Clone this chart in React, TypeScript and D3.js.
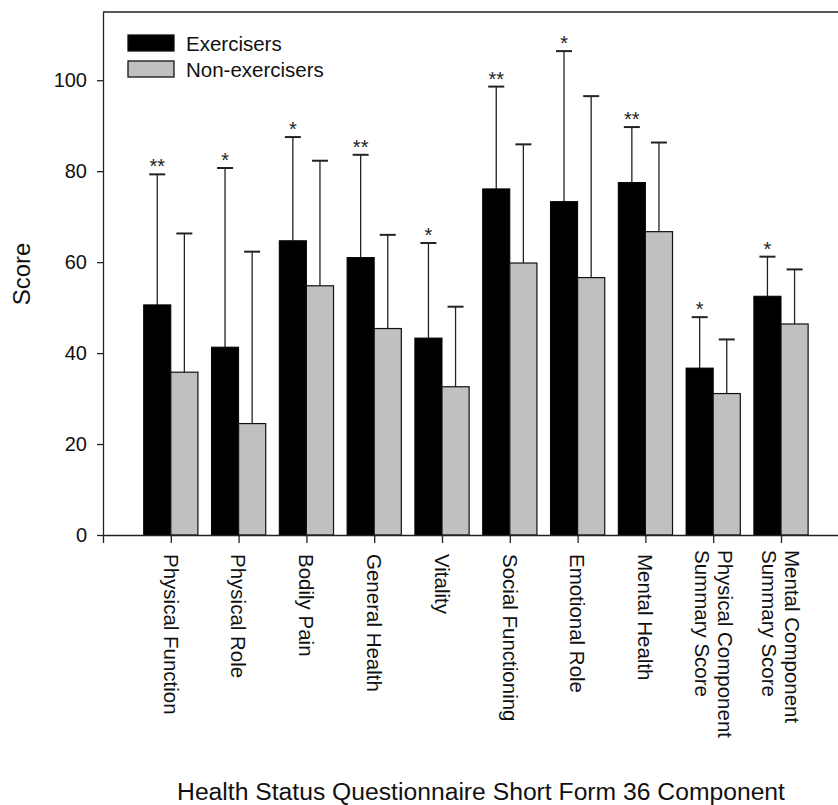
import * as d3 from "d3";
import { useEffect, useRef } from "react";

const categories = [
    ["Physical Function"],
    ["Physical Role"],
    ["Bodily Pain"],
    ["General Health"],
    ["Vitality"],
    ["Social Functioning"],
    ["Emotional Role"],
    ["Mental Health"],
    ["Physical Component", "Summary Score"],
    ["Mental Component", "Summary Score"],
];
const exercisers = [50.6, 41.3, 64.7, 61.0, 43.3, 76.1, 73.3, 77.5, 36.7, 52.5];
const exercisersSd = [28.7, 39.4, 22.8, 22.6, 20.9, 22.5, 33.1, 12.2, 11.2, 8.7];
const nonExercisers = [35.8, 24.5, 54.8, 45.4, 32.6, 59.8, 56.6, 66.7, 31.1, 46.4];
const nonExercisersSd = [30.5, 37.8, 27.5, 20.6, 17.6, 26.1, 39.9, 19.6, 11.9, 12.0];
const significance = ["**", "*", "*", "**", "*", "**", "*", "**", "*", "*"];
const yTicks = [0, 20, 40, 60, 80, 100];
const seriesNames = ["Exercisers", "Non-exercisers"];

const FONT = "'Liberation Sans', Arial, Helvetica, sans-serif";
const GREY = "#c0c0c0";

export default function App() {
    const width = 838;
    const height = 805;
    const margin = { top: 13, left: 103, bottom: 270 };
    const plotBottom = height - margin.bottom; // 535

    const x = d3.scaleLinear().domain([0, 11]).range([margin.left, margin.left + 11 * 67.8]);
    const y = d3.scaleLinear().domain([0, 115]).range([plotBottom, margin.top - 1]);
    const barW = x(0.4) - x(0);

    const gy = useRef<SVGGElement>(null);
    const gx = useRef<SVGGElement>(null);

    useEffect(() => {
        const ay = d3.select(gy.current)
            .call(d3.axisLeft(y).tickValues(yTicks).tickSize(6).tickPadding(10).tickSizeOuter(0));
        ay.select(".domain").attr("stroke", "#222").attr("stroke-width", 1.3);
        ay.selectAll("line").attr("stroke", "#222").attr("stroke-width", 1.3);
        ay.selectAll("text").attr("font-size", 20).attr("font-family", FONT).attr("fill", "#111");

        const ax = d3.select(gx.current)
            .call(d3.axisBottom(x).tickValues(d3.range(0, 11)).tickSize(8).tickFormat(() => "").tickSizeOuter(0));
        ax.select(".domain").attr("stroke", "#222").attr("stroke-width", 1.3);
        ax.selectAll("line").attr("stroke", "#222").attr("stroke-width", 1.3);
    }, [x, y]);

    const groups = categories.map((c, i) => ({
        label: c,
        pos: i + 1,
        ex: exercisers[i],
        exTop: exercisers[i] + exercisersSd[i],
        non: nonExercisers[i],
        nonTop: nonExercisers[i] + nonExercisersSd[i],
        sig: significance[i],
    }));

    return (
        <svg width={width} height={height} style={{ position: "absolute", left: 0, top: 0, background: "white" }}>
            {/* top frame line */}
            <line x1={x(0)} x2={x(11)} y1={y(115)} y2={y(115)} stroke="#222" strokeWidth={1.3} />

            {groups.map((d, i) => {
                const cx = x(d.pos);
                const exC = cx - barW / 2;
                const nonC = cx + barW / 2;
                return (
                    <g key={i}>
                        {/* error bars */}
                        <g stroke="#222" strokeWidth={1.3}>
                            <line x1={exC} x2={exC} y1={y(d.ex)} y2={y(d.exTop)} />
                            <line x1={exC - 8} x2={exC + 8} y1={y(d.exTop)} y2={y(d.exTop)} strokeWidth={2} />
                            <line x1={nonC} x2={nonC} y1={y(d.non)} y2={y(d.nonTop)} />
                            <line x1={nonC - 8} x2={nonC + 8} y1={y(d.nonTop)} y2={y(d.nonTop)} strokeWidth={2} />
                        </g>
                        <rect x={cx - barW} y={y(d.ex)} width={barW} height={plotBottom - y(d.ex)}
                            fill="#000" stroke="#000" strokeWidth={1} />
                        <rect x={cx} y={y(d.non)} width={barW} height={plotBottom - y(d.non)}
                            fill={GREY} stroke="#111" strokeWidth={1.2} />
                        <text x={exC} y={y(d.exTop) - 1} textAnchor="middle" fontSize={20} fontFamily={FONT} fill="#222">
                            {d.sig}
                        </text>
                    </g>
                );
            })}

            <g ref={gy} transform={`translate(${margin.left},0)`} />
            <g ref={gx} transform={`translate(0,${plotBottom})`} />

            {/* category labels */}
            {groups.map((d, i) => {
                const n = d.label.length;
                return (
                    <g key={i} fontSize={20.5} fontFamily={FONT} fill="#111">
                        {d.label.map((line, j) => {
                            const offset = (n - 1) * 11.5 - j * 23;
                            return (
                                <text key={j} transform={`translate(${x(d.pos) + offset},${n > 1 ? 550 : 554}) rotate(90)`}
                                    dy="0.35em">
                                    {line}
                                </text>
                            );
                        })}
                    </g>
                );
            })}

            {/* legend */}
            {seriesNames.map((s, i) => (
                <g key={s} transform={`translate(128,${35 + i * 26})`}>
                    <rect width={46} height={16} fill={i === 0 ? "#000" : GREY} stroke="#111" strokeWidth={1.3} />
                    <text x={58} y={15.5} fontSize={20.5} fontFamily={FONT} fill="#111">{s}</text>
                </g>
            ))}

            {/* axis titles */}
            <text transform={`translate(30,${(margin.top + plotBottom) / 2}) rotate(-90)`} textAnchor="middle"
                fontSize={24} fontFamily={FONT} fill="#111">
                Score
            </text>
            <text x={481} y={800} textAnchor="middle" fontSize={24.7} fontFamily={FONT} fill="#111">
                Health Status Questionnaire Short Form 36 Component
            </text>
        </svg>
    );
}
